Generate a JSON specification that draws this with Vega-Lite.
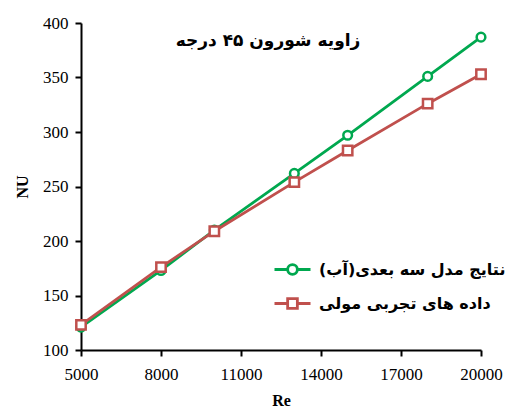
{
  "$schema": "https://vega.github.io/schema/vega-lite/v6.json",
  "autosize": "none",
  "width": 400,
  "height": 327,
  "padding": {"left": 81, "top": 23, "right": 26, "bottom": 64},
  "background": "white",
  "title": {
    "text": "زاویه شورون ۴۵ درجه",
    "orient": "top",
    "anchor": "middle",
    "frame": "group",
    "offset": -36,
    "dx": -13,
    "font": "DejaVu Sans",
    "fontSize": 17,
    "fontWeight": "bold",
    "color": "black"
  },
  "data": {
    "values": [
      {"Re": 5000, "NU": 121, "series": "نتایج مدل سه بعدی(آب)"},
      {"Re": 8000, "NU": 173, "series": "نتایج مدل سه بعدی(آب)"},
      {"Re": 10000, "NU": 210, "series": "نتایج مدل سه بعدی(آب)"},
      {"Re": 13000, "NU": 262, "series": "نتایج مدل سه بعدی(آب)"},
      {"Re": 15000, "NU": 297, "series": "نتایج مدل سه بعدی(آب)"},
      {"Re": 18000, "NU": 351, "series": "نتایج مدل سه بعدی(آب)"},
      {"Re": 20000, "NU": 387, "series": "نتایج مدل سه بعدی(آب)"},
      {"Re": 5000, "NU": 123, "series": "داده های تجربی مولی"},
      {"Re": 8000, "NU": 176, "series": "داده های تجربی مولی"},
      {"Re": 10000, "NU": 209, "series": "داده های تجربی مولی"},
      {"Re": 13000, "NU": 254, "series": "داده های تجربی مولی"},
      {"Re": 15000, "NU": 283, "series": "داده های تجربی مولی"},
      {"Re": 18000, "NU": 326, "series": "داده های تجربی مولی"},
      {"Re": 20000, "NU": 353, "series": "داده های تجربی مولی"}
    ]
  },
  "config": {
    "view": {"stroke": null},
    "axis": {
      "grid": false,
      "domainColor": "black",
      "domainWidth": 2,
      "tickColor": "black",
      "tickWidth": 2,
      "tickSize": 6,
      "labelFont": "Liberation Serif",
      "labelFontSize": 17,
      "labelColor": "black",
      "titleFont": "Liberation Serif",
      "titleFontSize": 16,
      "titleFontWeight": "bold",
      "titleColor": "black"
    }
  },
  "encoding": {
    "x": {
      "field": "Re",
      "type": "quantitative",
      "scale": {"domain": [5000, 20000], "zero": false, "nice": false},
      "axis": {"values": [5000, 8000, 11000, 14000, 17000, 20000], "format": "d", "title": "Re", "labelPadding": 10, "titlePadding": 10, "labelFlush": false, "labelFont": "Liberation Serif"}
    },
    "y": {
      "field": "NU",
      "type": "quantitative",
      "scale": {"domain": [100, 400], "zero": false, "nice": false},
      "axis": {"values": [100, 150, 200, 250, 300, 350, 400], "title": "NU", "labelPadding": 7, "titlePadding": 12, "labelFont": "Liberation Serif"}
    },
    "color": {
      "field": "series",
      "type": "nominal",
      "scale": {"domain": ["نتایج مدل سه بعدی(آب)", "داده های تجربی مولی"], "range": ["#00A84F", "#C0504D"]}
    }
  },
  "layer": [
    {
      "mark": {"type": "line", "strokeWidth": 2.8},
      "encoding": {
        "color": {
          "field": "series",
          "type": "nominal",
          "scale": {"domain": ["نتایج مدل سه بعدی(آب)", "داده های تجربی مولی"], "range": ["#00A84F", "#C0504D"]},
          "legend": {
            "title": null,
            "orient": "none",
            "legendX": 192,
            "legendY": 227,
            "padding": 0,
            "symbolSize": 1296,
            "symbolStrokeWidth": 2.8,
            "symbolFillColor": "white",
            "symbolOpacity": 1,
            "symbolType": {"expr": "datum.value == 'داده های تجربی مولی' ? 'M-1,0H-0.27M0.27,0H1M-0.27,-0.27H0.27V0.27H-0.27Z' : 'M-1,0H-0.27M0.27,0H1M-0.27,0A0.27,0.27 0 1,0 0.27,0A0.27,0.27 0 1,0 -0.27,0Z'"},
            "rowPadding": 4,
            "labelOffset": 7,
            "labelFont": "DejaVu Sans",
            "labelFontSize": 16,
            "labelFontWeight": "bold",
            "labelColor": "black",
            "labelLimit": 300,
            "labelExpr": "datum.label + '\u200f'"
          }
        }
      }
    },
    {
      "transform": [{"filter": "datum.series == 'نتایج مدل سه بعدی(آب)'"}],
      "mark": {"type": "point", "shape": "circle", "size": 75, "filled": false, "fill": "white", "fillOpacity": 1, "strokeWidth": 2.5, "opacity": 1},
      "encoding": {
        "color": {"field": "series", "type": "nominal", "legend": null}
      }
    },
    {
      "transform": [{"filter": "datum.series == 'داده های تجربی مولی'"}],
      "mark": {"type": "point", "shape": "square", "size": 88, "filled": false, "fill": "white", "fillOpacity": 1, "strokeWidth": 2.5, "opacity": 1},
      "encoding": {
        "color": {"field": "series", "type": "nominal", "legend": null}
      }
    }
  ]
}
